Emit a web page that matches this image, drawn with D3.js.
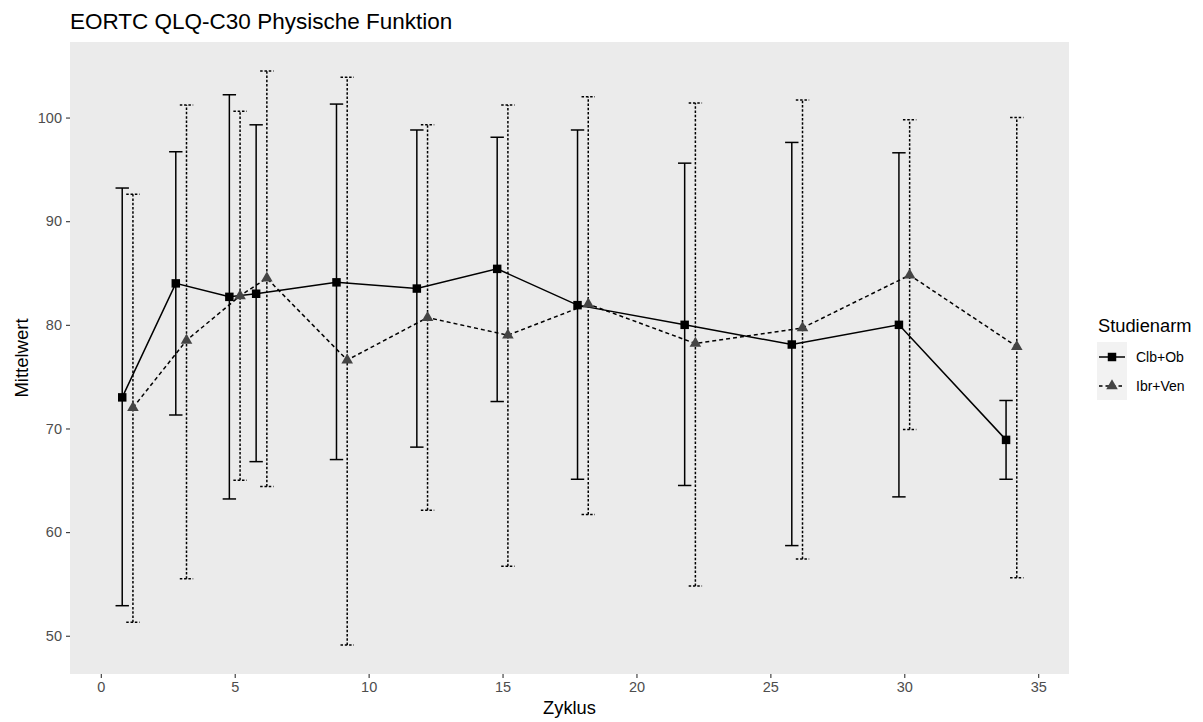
<!DOCTYPE html>
<html>
<head>
<meta charset="utf-8">
<script src="https://cdn.jsdelivr.net/npm/d3@7"></script>
<style>
  body { margin: 0; background: #fff; }
  svg { font-family: "Liberation Sans", Arial, sans-serif; }
</style>
</head>
<body>
<svg id="chart" width="1203" height="722"></svg>
<script>
// Visit cycles (Zyklus)
const cycles = [1, 3, 5, 6, 9, 12, 15, 18, 22, 26, 30, 34];
const groups = ["Clb+Ob", "Ibr+Ven"];

// Clb+Ob: mean, lower and upper bounds
const clbMean  = [73.0, 84.0, 82.7, 83.0, 84.1, 83.5, 85.4, 81.9, 80.0, 78.1, 80.0, 68.9];
const clbLower = [52.9, 71.3, 63.2, 66.8, 67.0, 68.2, 72.6, 65.1, 64.5, 58.7, 63.4, 65.1];
const clbUpper = [93.2, 96.7, 102.2, 99.3, 101.3, 98.8, 98.1, 98.8, 95.6, 97.6, 96.6, 72.7];

// Ibr+Ven: mean, lower and upper bounds
const ibrMean  = [72.0, 78.5, 82.8, 84.5, 76.6, 80.7, 79.0, 82.0, 78.2, 79.7, 84.8, 77.9];
const ibrLower = [51.3, 55.5, 65.0, 64.4, 49.1, 62.1, 56.7, 61.7, 54.8, 57.4, 69.9, 55.6];
const ibrUpper = [92.6, 101.2, 100.6, 104.5, 103.9, 99.3, 101.2, 102.0, 101.4, 101.7, 99.8, 100.0];

const xTicks = [0, 5, 10, 15, 20, 25, 30, 35];
const yTicks = [50, 60, 70, 80, 90, 100];

const series = [
  { name: groups[0], offset: -0.2, mean: clbMean, lo: clbLower, hi: clbUpper,
    dash: null, barDash: null, shape: "square", fill: "#000" },
  { name: groups[1], offset: 0.2, mean: ibrMean, lo: ibrLower, hi: ibrUpper,
    dash: "4,3", barDash: "2.5,1.8", shape: "triangle", fill: "#444" }
];

const svg = d3.select("#chart");
const panel = { left: 70, top: 42, right: 1069, bottom: 674 };

const x = d3.scaleLinear().domain([-1.15, 36.15]).range([panel.left, panel.right]);
const y = d3.scaleLinear().domain([46.31, 107.29]).range([panel.bottom, panel.top]);

// panel background
svg.append("rect")
  .attr("x", panel.left).attr("y", panel.top)
  .attr("width", panel.right - panel.left).attr("height", panel.bottom - panel.top)
  .attr("fill", "#ebebeb");

// axes
const xAxis = svg.append("g")
  .attr("transform", `translate(0,${panel.bottom})`)
  .call(d3.axisBottom(x).tickValues(xTicks).tickSize(4).tickPadding(4).tickFormat(d3.format("d")));
const yAxis = svg.append("g")
  .attr("transform", `translate(${panel.left},0)`)
  .call(d3.axisLeft(y).tickValues(yTicks).tickSize(4).tickPadding(4).tickFormat(d3.format("d")));
[xAxis, yAxis].forEach(g => {
  g.select(".domain").remove();
  g.selectAll(".tick line").attr("stroke", "#333").attr("stroke-width", 1.1);
  g.selectAll(".tick text").attr("fill", "#4d4d4d").style("font-size", "14.5px")
    .style("font-family", "'Liberation Sans', Arial, sans-serif");
});

const capHalf = 6.7;
const symbolSize = { square: 72, triangle: 58 };

series.forEach(s => {
  const g = svg.append("g");
  const data = cycles.map((c, i) => ({ c: c + s.offset, m: s.mean[i], lo: s.lo[i], hi: s.hi[i] }));

  // error bars
  const eb = g.selectAll("g.eb").data(data).enter().append("g")
    .attr("stroke", "#000").attr("stroke-width", 1.5).attr("fill", "none")
    .attr("stroke-dasharray", s.barDash);
  eb.append("line")
    .attr("x1", d => x(d.c)).attr("x2", d => x(d.c))
    .attr("y1", d => y(d.lo)).attr("y2", d => y(d.hi));
  eb.append("line")
    .attr("x1", d => x(d.c) - capHalf).attr("x2", d => x(d.c) + capHalf)
    .attr("y1", d => y(d.hi)).attr("y2", d => y(d.hi));
  eb.append("line")
    .attr("x1", d => x(d.c) - capHalf).attr("x2", d => x(d.c) + capHalf)
    .attr("y1", d => y(d.lo)).attr("y2", d => y(d.lo));

  // connecting line
  g.append("path")
    .datum(data)
    .attr("fill", "none").attr("stroke", "#000").attr("stroke-width", 1.5)
    .attr("stroke-dasharray", s.dash)
    .attr("d", d3.line().x(d => x(d.c)).y(d => y(d.m)));

  // markers
  const sym = d3.symbol()
    .type(s.shape === "square" ? d3.symbolSquare : d3.symbolTriangle)
    .size(symbolSize[s.shape]);
  g.selectAll("path.pt").data(data).enter().append("path")
    .attr("transform", d => `translate(${x(d.c)},${y(d.m)})`)
    .attr("d", sym).attr("fill", s.fill);
});

// title and axis titles
svg.append("text").attr("x", panel.left).attr("y", 29)
  .style("font-size", "22.5px").attr("fill", "#000")
  .text("EORTC QLQ-C30 Physische Funktion");
svg.append("text").attr("x", (panel.left + panel.right) / 2).attr("y", 714)
  .attr("text-anchor", "middle").style("font-size", "18.3px").attr("fill", "#000")
  .text("Zyklus");
svg.append("text")
  .attr("transform", `translate(28,${(panel.top + panel.bottom) / 2}) rotate(-90)`)
  .attr("text-anchor", "middle").style("font-size", "18.5px").attr("fill", "#000")
  .text("Mittelwert");

// legend
const lg = svg.append("g");
lg.append("text").attr("x", 1098).attr("y", 331.5)
  .style("font-size", "18.3px").attr("fill", "#000").text("Studienarm");
lg.append("rect").attr("x", 1097).attr("y", 342).attr("width", 30).attr("height", 58)
  .attr("fill", "#f2f2f2");
series.forEach((s, i) => {
  const cy = 357 + i * 29;
  lg.append("line").attr("x1", 1099).attr("x2", 1125).attr("y1", cy).attr("y2", cy)
    .attr("stroke", "#000").attr("stroke-width", 1.5).attr("stroke-dasharray", s.dash ? "3.5,3" : null);
  const sym = d3.symbol()
    .type(s.shape === "square" ? d3.symbolSquare : d3.symbolTriangle)
    .size(symbolSize[s.shape]);
  lg.append("path").attr("transform", `translate(1112,${cy})`).attr("d", sym).attr("fill", s.fill);
  lg.append("text").attr("x", 1136).attr("y", cy + 5)
    .style("font-size", "14px").attr("fill", "#000").text(s.name);
});
</script>
</body>
</html>
